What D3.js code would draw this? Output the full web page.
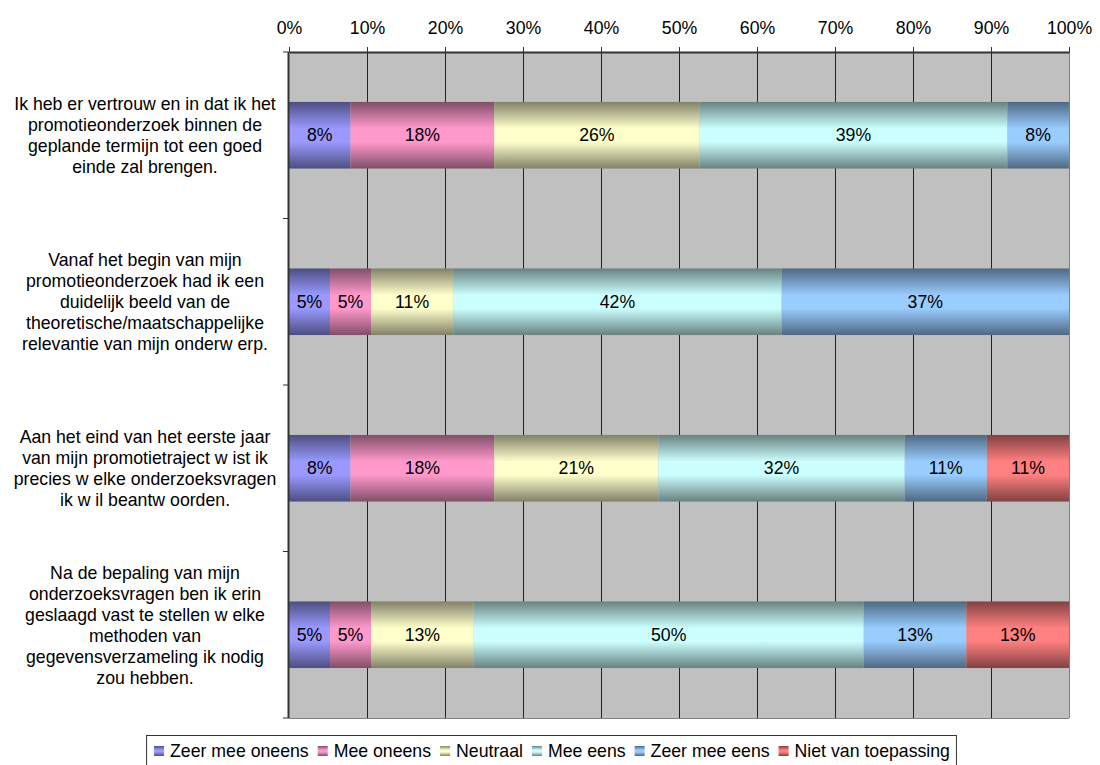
<!DOCTYPE html>
<html>
<head>
<meta charset="utf-8">
<script src="https://cdn.jsdelivr.net/npm/d3@7"></script>
<style>
  body { margin: 0; background: #fff; }
  svg text { font-family: "Liberation Sans", Arial, sans-serif; font-size: 17.7px; fill: #000; }
</style>
</head>
<body>
<div id="chart"></div>
<script>
// questions (category labels, broken in lines like the original)
var categories = [
  ["Ik heb er vertrouw en in dat ik het", "promotieonderzoek binnen de", "geplande termijn tot een goed", "einde zal brengen."],
  ["Vanaf het begin van mijn", "promotieonderzoek had ik een", "duidelijk beeld van de", "theoretische/maatschappelijke", "relevantie van mijn onderw erp."],
  ["Aan het eind van het eerste jaar", "van mijn promotietraject w ist ik", "precies w elke onderzoeksvragen", "ik w il beantw oorden."],
  ["Na de bepaling van mijn", "onderzoeksvragen ben ik erin", "geslaagd vast te stellen w elke", "methoden van", "gegevensverzameling ik nodig", "zou hebben."]
];

var seriesNames = ["Zeer mee oneens", "Mee oneens", "Neutraal", "Mee eens", "Zeer mee eens", "Niet van toepassing"];

// percentages per question
var zeerMeeOneens     = [7.89, 5.26, 7.89, 5.26];
var meeOneens         = [18.42, 5.26, 18.42, 5.26];
var neutraal          = [26.32, 10.53, 21.05, 13.16];
var meeEens           = [39.47, 42.11, 31.58, 50.00];
var zeerMeeEens       = [7.89, 36.84, 10.53, 13.16];
var nietVanToepassing = [0, 0, 10.53, 13.16];

var xTicks = [0, 10, 20, 30, 40, 50, 60, 70, 80, 90, 100];

var colors = ["#9999FF", "#FF99CC", "#FFFFCC", "#CCFFFF", "#99CCFF", "#FF8080"];

var seriesValues = [zeerMeeOneens, meeOneens, neutraal, meeEens, zeerMeeEens, nietVanToepassing];

var rows = categories.map(function(c, i) {
  var r = {idx: i};
  seriesNames.forEach(function(s, j) { r[s] = seriesValues[j][i]; });
  return r;
});

var width = 1100, height = 765;
var plot = {left: 289, right: 1069, top: 52, bottom: 718};

var svg = d3.select("#chart").append("svg")
    .attr("width", width)
    .attr("height", height);

// gradients, dark at the edges and light in the middle
var defs = svg.append("defs");
colors.forEach(function(c, i) {
  var dark = d3.color(c).darker(1.9);
  var g = defs.append("linearGradient")
      .attr("id", "grad" + i)
      .attr("x1", 0).attr("y1", 0).attr("x2", 0).attr("y2", 1);
  g.append("stop").attr("offset", "0%").attr("stop-color", dark);
  g.append("stop").attr("offset", "40%").attr("stop-color", c);
  g.append("stop").attr("offset", "60%").attr("stop-color", c);
  g.append("stop").attr("offset", "100%").attr("stop-color", dark);
});

var x = d3.scaleLinear().domain([0, 100]).range([plot.left, plot.right]);

var y = d3.scaleBand()
    .domain(d3.range(categories.length))
    .range([plot.top, plot.bottom])
    .paddingInner(0.6)
    .paddingOuter(0.3);

var yCat = d3.scaleBand()
    .domain(d3.range(categories.length))
    .range([plot.top, plot.bottom]);

// plot background
svg.append("rect")
    .attr("x", plot.left).attr("y", plot.top)
    .attr("width", plot.right - plot.left)
    .attr("height", plot.bottom - plot.top)
    .attr("fill", "#C0C0C0");

// gridlines
svg.append("g").selectAll("line")
    .data(xTicks.slice(1, -1))
  .enter().append("line")
    .attr("x1", function(d) { return Math.round(x(d)) + 0.5; })
    .attr("x2", function(d) { return Math.round(x(d)) + 0.5; })
    .attr("y1", plot.top).attr("y2", plot.bottom)
    .attr("stroke", "#222")
    .attr("stroke-width", 1);

// right border
svg.append("line")
    .attr("x1", plot.right + 0.5).attr("x2", plot.right + 0.5)
    .attr("y1", plot.top).attr("y2", plot.bottom)
    .attr("stroke", "#808080");
svg.append("line")
    .attr("x1", plot.left).attr("x2", plot.right)
    .attr("y1", plot.bottom + 0.5).attr("y2", plot.bottom + 0.5)
    .attr("stroke", "#808080");

// stacked bars
var stack = d3.stack().keys(seriesNames);
var layers = stack(rows);

var layer = svg.append("g").selectAll("g")
    .data(layers)
  .enter().append("g")
    .attr("fill", function(d, i) { return "url(#grad" + i + ")"; });

layer.selectAll("rect")
    .data(function(d) { return d.filter(function(p) { return p[1] - p[0] > 0; }); })
  .enter().append("rect")
    .attr("x", function(d) { return x(d[0]); })
    .attr("width", function(d) { return x(d[1]) - x(d[0]); })
    .attr("y", function(d) { return y(d.data.idx); })
    .attr("height", y.bandwidth());

layer.selectAll("text")
    .data(function(d) { return d.filter(function(p) { return p[1] - p[0] > 0; }); })
  .enter().append("text")
    .attr("x", function(d) { return (x(d[0]) + x(d[1])) / 2; })
    .attr("y", function(d) { return y(d.data.idx) + y.bandwidth() / 2 + 6; })
    .attr("text-anchor", "middle")
    .text(function(d) { return Math.round(d[1] - d[0]) + "%"; });

// top axis
var xAxis = svg.append("g")
    .attr("transform", "translate(0," + plot.top + ")")
    .call(d3.axisTop(x).tickValues(xTicks).tickFormat(function(d) { return d + "%"; }).tickSize(5).tickSizeOuter(0));
xAxis.select(".domain").attr("stroke", "#333").attr("stroke-width", 2);
xAxis.selectAll(".tick line").attr("stroke", "#333");
xAxis.selectAll(".tick text")
    .attr("y", -18)
    .style("font-size", "17.7px")
    .style("font-family", "'Liberation Sans', Arial, sans-serif")
    .attr("fill", "#000");

// left category axis
svg.append("line")
    .attr("x1", plot.left - 0.5).attr("x2", plot.left - 0.5)
    .attr("y1", plot.top).attr("y2", plot.bottom)
    .attr("stroke", "#333").attr("stroke-width", 2);

svg.append("g").selectAll("line")
    .data(d3.range(categories.length + 1))
  .enter().append("line")
    .attr("x1", plot.left - 6).attr("x2", plot.left)
    .attr("y1", function(d) { return d < categories.length ? yCat(d) : plot.bottom; })
    .attr("y2", function(d) { return d < categories.length ? yCat(d) : plot.bottom; })
    .attr("stroke", "#333");

var lineH = 21;
svg.append("g").selectAll("text")
    .data(categories)
  .enter().append("text")
    .attr("text-anchor", "middle")
    .each(function(lines, i) {
      var cy = yCat(i) + yCat.bandwidth() / 2;
      var shift = lines.length > 5 ? -9 : 0;
      var y0 = cy - (lines.length - 1) * lineH / 2 + 6 + shift;
      d3.select(this).selectAll("tspan")
          .data(lines)
        .enter().append("tspan")
          .attr("x", 145)
          .attr("y", function(d, k) { return y0 + k * lineH; })
          .text(function(d) { return d; });
    });

// legend
var legend = svg.append("g");
var legendBox = legend.append("rect")
    .attr("fill", "#fff")
    .attr("stroke", "#333");
var items = legend.selectAll("g")
    .data(seriesNames)
  .enter().append("g");
items.append("rect")
    .attr("width", 10).attr("height", 10)
    .attr("y", -11)
    .attr("fill", function(d, i) { return "url(#grad" + i + ")"; });
items.append("text")
    .attr("x", 16)
    .text(function(d) { return d; });

var cursor = 0;
items.each(function() {
  var w = 16 + this.querySelector("text").getComputedTextLength();
  d3.select(this).attr("transform", "translate(" + cursor + ",0)");
  cursor += w + 9;
});
var totalW = cursor - 9;
var lx = 552 - totalW / 2;
legend.attr("transform", "translate(" + lx + ",757)");
legendBox
    .attr("x", -7.5).attr("y", -21.5)
    .attr("width", totalW + 14)
    .attr("height", 30);
</script>
</body>
</html>
